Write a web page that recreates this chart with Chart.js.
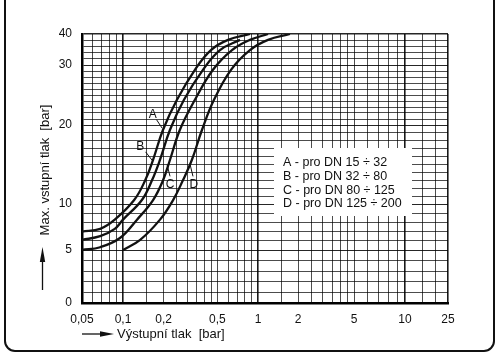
<!DOCTYPE html>
<html><head><meta charset="utf-8">
<script src="https://cdn.jsdelivr.net/npm/chart.js@4.4.0/dist/chart.umd.min.js"></script>
<style>
html,body{margin:0;padding:0;background:#fff;}
#wrap{position:relative;width:500px;height:357px;overflow:hidden;background:#fff;}
#frame{position:absolute;left:4px;top:-14px;width:491px;height:366px;border:2.5px solid #111;border-radius:11px;box-sizing:border-box;pointer-events:none;}
canvas{position:absolute;left:0;top:0;}
</style></head><body>
<div id="wrap"><canvas id="c" width="500" height="357"></canvas><div id="frame"></div></div>
<script>
// ---- tick labels ----
const X_TICK_VALUES = [0.05, 0.1, 0.2, 0.5, 1, 2, 5, 10, 25];
const X_TICK_LABELS = ['0,05', '0,1', '0,2', '0,5', '1', '2', '5', '10', '25'];
const Y_TICK_VALUES = [0, 5, 10, 20, 30, 40];
const Y_TICK_LABELS = ['0', '5', '10', '20', '30', '40'];
// ---- grid values ----
const X_GRID = [0.05,0.06,0.07,0.08,0.09,0.1,0.15,0.2,0.25,0.3,0.35,0.4,0.45,0.5,0.6,0.7,0.8,0.9,1,1.5,2,2.5,3,3.5,4,4.5,5,6,7,8,9,10,15,20,25];
const Y_GRID = [0,1,2,3,4,5,6,7,8,9,10,11,12,13,14,15,16,17,18,19,20,21,22,23,24,25,26,27,28,29,30,32,34,36,38,40];
const X_MAJOR = [0.1, 1, 10, 25];
// ---- series: output pressure (bar) / max inlet pressure (bar) ----
const A_OUT = [0.05, 0.068, 0.087, 0.121, 0.146, 0.167, 0.198, 0.251, 0.341, 0.448, 0.60, 0.872];
const A_IN  = [7.0, 7.3, 8.3, 10.5, 13.0, 15.6, 19.4, 24.2, 29.2, 34.8, 38.1, 40];
const B_OUT = [0.05, 0.068, 0.087, 0.1, 0.138, 0.164, 0.188, 0.223, 0.283, 0.391, 0.523, 0.736];
const B_IN  = [6.1, 6.5, 7.3, 8.3, 10.5, 13.0, 15.6, 19.4, 24.2, 29.2, 34.8, 38.1];
const C_OUT = [0.05, 0.068, 0.095, 0.127, 0.167, 0.198, 0.223, 0.264, 0.341, 0.464, 0.642, 0.872, 1.19];
const C_IN  = [5.0, 5.3, 6.3, 8.3, 10.5, 13.0, 15.6, 19.4, 24.2, 29.2, 34.8, 38.1, 40];
const D_OUT = [0.1, 0.134, 0.188, 0.235, 0.278, 0.324, 0.385, 0.472, 0.631, 0.872, 1.19, 1.74];
const D_IN  = [5.0, 6.1, 8.3, 10.5, 13.0, 15.6, 19.4, 24.2, 29.2, 34.8, 38.1, 40];
const LEGEND_LINES = ['A - pro DN 15 \u00f7 32', 'B - pro DN 32 \u00f7 80', 'C - pro DN 80 \u00f7 125', 'D - pro DN 125 \u00f7 200'];
// curve letters: text anchor and pointer from/to (data coords)
const CURVE_LABELS = [
  {t:'A', x:0.166, y:21.8, x1:0.177, y1:20.9, x2:0.195, y2:19.6},
  {t:'B', x:0.134, y:17.3, x1:0.147, y1:16.6, x2:0.165, y2:15.5},
  {t:'C', x:0.223, y:12.4, x1:0.223, y1:13.5, x2:0.212, y2:15.0},
  {t:'D', x:0.335, y:12.4, x1:0.330, y1:13.5, x2:0.314, y2:15.0}
];
// ---- nomogram axis shape (value -> fraction of axis length) ----
const X_KNOTS = [[0.05,0],[0.1,41/366],[1,176/366],[2,216/366],[5,272/366],[10,323/366],[20,353/366],[25,1]];
const Y_KNOTS = [[0,0],[5,53/269],[10,99/269],[20,178/269],[30,238/269],[40,1]];

function pwFrac(axis, v){
  const k = axis === 'x' ? X_KNOTS : Y_KNOTS;
  const t = axis === 'x' ? (z => Math.log10(z)) : (z => z);
  let i = 0;
  while (i < k.length - 2 && v > k[i+1][0]) i++;
  const a = k[i], b = k[i+1];
  const f = (t(v) - t(a[0])) / (t(b[0]) - t(a[0]));
  return a[1] + f * (b[1] - a[1]);
}
function pwInv(axis, f){
  const k = axis === 'x' ? X_KNOTS : Y_KNOTS;
  const lg = axis === 'x';
  let i = 0;
  while (i < k.length - 2 && f > k[i+1][1]) i++;
  const a = k[i], b = k[i+1];
  const r = (f - a[1]) / (b[1] - a[1]);
  if (lg) return Math.pow(10, Math.log10(a[0]) + r * (Math.log10(b[0]) - Math.log10(a[0])));
  return a[0] + r * (b[0] - a[0]);
}
class PiecewiseScale extends Chart.LinearScale {
  getPixelForValue(value){
    const f = pwFrac(this.axis, value);
    return this.isHorizontal() ? this.left + f * this.width : this.bottom - f * this.height;
  }
  getValueForPixel(pixel){
    const f = this.isHorizontal() ? (pixel - this.left) / this.width : (this.bottom - pixel) / this.height;
    return pwInv(this.axis, f);
  }
}
PiecewiseScale.id = 'piecewise';
PiecewiseScale.defaults = Chart.LinearScale.defaults;
Chart.register(PiecewiseScale);

function pts(xs, ys){ return xs.map((x, i) => ({x: x, y: ys[i]})); }
function near(arr, v){ return arr.findIndex(t => Math.abs(t - v) < 1e-9); }
const FONT = '"Liberation Sans", Arial, Helvetica, sans-serif';

const overlay = {
  id: 'overlay',
  afterDraw(chart){
    const ctx = chart.ctx, xs = chart.scales.x, ys = chart.scales.y;
    ctx.save();
    // legend box
    ctx.fillStyle = '#fff';
    ctx.fillRect(274, 148, 138, 68);
    ctx.fillStyle = '#111';
    ctx.font = '12.5px ' + FONT;
    ctx.textBaseline = 'middle';
    ctx.textAlign = 'left';
    LEGEND_LINES.forEach((t, i) => ctx.fillText(t, 283, 163 + i * 13.6));
    // curve letters
    ctx.font = '12px ' + FONT;
    ctx.textAlign = 'center';
    ctx.strokeStyle = '#111';
    ctx.lineWidth = 1;
    CURVE_LABELS.forEach(l => {
      ctx.fillText(l.t, xs.getPixelForValue(l.x), ys.getPixelForValue(l.y));
      ctx.beginPath();
      ctx.moveTo(xs.getPixelForValue(l.x1), ys.getPixelForValue(l.y1));
      ctx.lineTo(xs.getPixelForValue(l.x2), ys.getPixelForValue(l.y2));
      ctx.stroke();
    });
    // axis titles with arrows
    ctx.font = '13px ' + FONT;
    ctx.textAlign = 'left';
    ctx.fillText('V\u00fdstupn\u00ed tlak  [bar]', 117, 334);
    ctx.lineWidth = 1.3;
    ctx.beginPath(); ctx.moveTo(82, 334); ctx.lineTo(104, 334); ctx.stroke();
    ctx.beginPath(); ctx.moveTo(100, 331.3); ctx.lineTo(114, 334); ctx.lineTo(100, 336.7); ctx.closePath(); ctx.fill();
    ctx.save();
    ctx.translate(45, 170);
    ctx.rotate(-Math.PI / 2);
    ctx.textAlign = 'center';
    ctx.fillText('Max. vstupn\u00ed tlak  [bar]', 0, 0);
    ctx.restore();
    ctx.beginPath(); ctx.moveTo(42.5, 290); ctx.lineTo(42.5, 258); ctx.stroke();
    ctx.beginPath(); ctx.moveTo(39.8, 262); ctx.lineTo(42.5, 247); ctx.lineTo(45.2, 262); ctx.closePath(); ctx.fill();
    ctx.restore();
  }
};

const lineStyle = {borderColor: '#111', borderWidth: 2.3, pointRadius: 0, fill: false, tension: 0.4};

new Chart(document.getElementById('c'), {
  type: 'line',
  data: {datasets: [
    Object.assign({label: 'A', data: pts(A_OUT, A_IN)}, lineStyle),
    Object.assign({label: 'B', data: pts(B_OUT, B_IN)}, lineStyle),
    Object.assign({label: 'C', data: pts(C_OUT, C_IN)}, lineStyle),
    Object.assign({label: 'D', data: pts(D_OUT, D_IN)}, lineStyle)
  ]},
  options: {
    responsive: false, animation: false, devicePixelRatio: 1,
    layout: {padding: {left: 0, right: 52, top: 34, bottom: 0}},
    plugins: {legend: {display: false}, tooltip: {enabled: false}},
    scales: {
      x: {
        type: 'piecewise', min: 0.05, max: 25,
        afterFit(s){ s.height = 54; },
        afterBuildTicks(s){ s.ticks = X_GRID.map(v => ({value: v})); },
        ticks: {autoSkip: false, maxRotation: 0, minRotation: 0, padding: 9, color: '#111',
          font: {size: 12, family: FONT},
          callback(v){ const i = near(X_TICK_VALUES, v); return i >= 0 ? X_TICK_LABELS[i] : ''; }},
        grid: {drawTicks: false,
          color: c => near(X_MAJOR, c.tick.value) >= 0 ? 'rgba(0,0,0,0.9)' : 'rgba(0,0,0,0.7)',
          lineWidth: c => near(X_MAJOR, c.tick.value) >= 0 ? 1.6 : 1},
        border: {display: true, color: '#000', width: 2.5}
      },
      y: {
        type: 'piecewise', min: 0, max: 40,
        afterFit(s){ s.width = 82; },
        afterBuildTicks(s){ s.ticks = Y_GRID.map(v => ({value: v})); },
        ticks: {autoSkip: false, padding: 10, color: '#111',
          font: {size: 12, family: FONT},
          callback(v){ const i = near(Y_TICK_VALUES, v); return i >= 0 ? Y_TICK_LABELS[i] : ''; }},
        grid: {drawTicks: false,
          color: c => near(Y_TICK_VALUES, c.tick.value) >= 0 ? 'rgba(0,0,0,0.85)' : 'rgba(0,0,0,0.7)',
          lineWidth: c => c.tick.value === 40 ? 1.6 : 1},
        border: {display: true, color: '#000', width: 2.5}
      }
    }
  },
  plugins: [overlay]
});
</script>
</body></html>
